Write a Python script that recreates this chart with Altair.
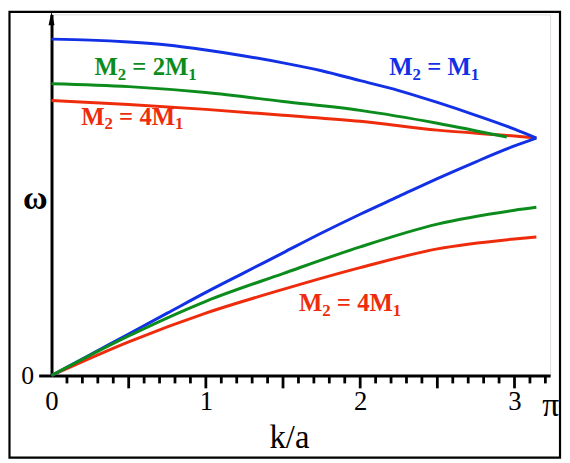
import altair as alt
import pandas as pd

# ---- data ----
K_BLUE = [0, 0.25, 0.5, 0.75, 1.0, 1.25, 1.5, 1.75, 2.0, 2.25, 2.5, 2.75, 3.0, 3.1416]
W_BLUE_OPT = [3.40, 3.39, 3.37, 3.34, 3.29, 3.23, 3.16, 3.08, 2.98, 2.88, 2.76, 2.63, 2.49, 2.40]
W_BLUE_AC = [0.00, 0.21, 0.42, 0.63, 0.84, 1.04, 1.24, 1.44, 1.63, 1.81, 1.99, 2.16, 2.32, 2.40]

K_GREEN_OPT = [0, 0.5, 1.0, 1.5, 2.0, 2.5, 2.95]
W_GREEN_OPT = [2.95, 2.92, 2.86, 2.77, 2.68, 2.55, 2.41]

K_RED_OPT = [0, 0.5, 1.0, 1.5, 2.0, 2.5, 3.0, 3.1416]
W_RED_OPT = [2.78, 2.74, 2.69, 2.63, 2.57, 2.48, 2.42, 2.40]

K_AC = [0, 0.5, 1.0, 1.5, 2.0, 2.5, 3.0, 3.1416]
W_GREEN_AC = [0.00, 0.40, 0.75, 1.03, 1.30, 1.53, 1.67, 1.70]
W_RED_AC = [0.00, 0.34, 0.63, 0.87, 1.09, 1.28, 1.38, 1.40]

X_LABELS = [0, 1, 2, 3]
X_END = 3.2308
MINOR_TICKS = [round(i * 0.1, 1) for i in range(1, 33) if i % 5 != 0]
MAJOR_TICKS = [0.5, 1.0, 1.5, 2.0, 2.5, 3.0]

BLUE = "#1230e6"
GREEN = "#0c8c1c"
RED = "#ee2c0c"
FONT = "Liberation Serif"

# labels: (anchor k, anchor w, color, pieces)
LABELS = [
    (0.278, 3.037, GREEN, ["M", "2", "=", "2M", "1"]),
    (0.192, 2.537, RED, ["M", "2", "=", "4M", "1"]),
    (2.188, 3.037, BLUE, ["M", "2", "=", "M", "1"]),
    (1.603, 0.653, RED, ["M", "2", "=", "4M", "1"]),
]

xs = alt.Scale(domain=[0, X_END], nice=False, zero=False)
ys = alt.Scale(domain=[0, 3.65], nice=False, zero=False)

xaxis = alt.Axis(
    values=X_LABELS + [X_END], ticks=False, tickSize=0, grid=False,
    domainColor="black", domainWidth=3, labelFont=FONT,
    labelFontSize={"condition": {"test": "datum.value > 3.1", "value": 34}, "value": 27},
    labelColor="black", labelPadding=13, labelFlush=False, labelOverlap=False,
    labelExpr="datum.value > 3.1 ? 'π' : toString(datum.value)",
    title="k/a", titleFont=FONT, titleFontSize=33, titleFontWeight="normal",
    titleColor="black", titleX=240, titleY=73, titleAlign="center",
    titleBaseline="alphabetic", titleAngle=0,
)
yaxis = alt.Axis(
    values=[0], tickSize=13, tickWidth=3, tickColor="black", grid=False,
    domainColor="black", domainWidth=3, labelFont=FONT, labelFontSize=26,
    labelColor="black", labelPadding=5,
    title="ω", titleFont=FONT, titleFontSize=34, titleFontWeight="bold",
    titleColor="black", titleAngle=0, titleX=-17, titleY=196,
    titleAlign="center", titleBaseline="alphabetic",
)


def enc_xy():
    return dict(
        x=alt.X("k:Q", scale=xs, axis=xaxis),
        y=alt.Y("w:Q", scale=ys, axis=yaxis),
    )


def curve(k, w, color):
    return alt.Chart(pd.DataFrame({"k": k, "w": w})).mark_line(
        color=color, strokeWidth=3, interpolate="monotone"
    ).encode(**enc_xy())


layers = []

# border around whole figure
border = alt.Chart(pd.DataFrame({"a": [0]})).mark_rect(
    filled=False, stroke="black", strokeWidth=2.2
).encode(
    x=alt.value(-42.5), x2=alt.value(514), y=alt.value(-2.5), y2=alt.value(448)
)
layers.append(border)

# curves
layers.append(curve(K_RED_OPT, W_RED_OPT, RED))
layers.append(curve(K_AC, W_RED_AC, RED))
layers.append(curve(K_BLUE, W_BLUE_OPT, BLUE))
layers.append(curve(K_BLUE, W_BLUE_AC, BLUE))
layers.append(curve(K_GREEN_OPT, W_GREEN_OPT, GREEN))
layers.append(curve(K_AC, W_GREEN_AC, GREEN))

# x ticks
minor = alt.Chart(pd.DataFrame({"k": MINOR_TICKS})).mark_rule(
    color="black", strokeWidth=2.8
).encode(x=alt.X("k:Q", scale=xs, axis=xaxis), y=alt.value(365), y2=alt.value(373))
major = alt.Chart(pd.DataFrame({"k": MAJOR_TICKS})).mark_rule(
    color="black", strokeWidth=2.8
).encode(x=alt.X("k:Q", scale=xs, axis=xaxis), y=alt.value(365), y2=alt.value(378))
layers += [minor, major]

# arrow head on the omega axis
arrow = alt.Chart(pd.DataFrame({"k": [0], "w": [3.61]})).mark_point(
    shape="M0,-1L0.43,1L-0.43,1Z", size=196, filled=True, color="black", opacity=1
).encode(**enc_xy())
layers.append(arrow)

# labels with subscripts
WIDTH = {"M": 0.944, "2": 0.5, "1": 0.5, "4": 0.5, "=": 0.57}
BIG, SMALL, SPACE = 25, 17, 0.25 * 25
for (k0, w0, col, pieces) in LABELS:
    dx = 0.0
    for i, p in enumerate(pieces):
        sub = i in (1, 4)
        size = SMALL if sub else BIG
        if p == "=":
            dx += SPACE
        layers.append(
            alt.Chart(pd.DataFrame({"k": [k0], "w": [w0]})).mark_text(
                align="left", baseline="alphabetic", font=FONT, fontWeight="bold",
                fontSize=size, color=col, dx=dx, dy=5 if sub else 0,
            ).encode(text=alt.value(p), **enc_xy())
        )
        dx += sum(WIDTH[c] for c in p) * size
        if p == "=":
            dx += SPACE

chart = alt.layer(*layers).properties(
    width=504, height=365,
    autosize=alt.AutoSizeParams(type="none"),
    padding={"left": 44, "top": 4, "right": 12, "bottom": 86},
).configure_view(stroke=None).configure(background="white")

chart.save("out.html", embed_options={"renderer": "svg", "actions": False})
